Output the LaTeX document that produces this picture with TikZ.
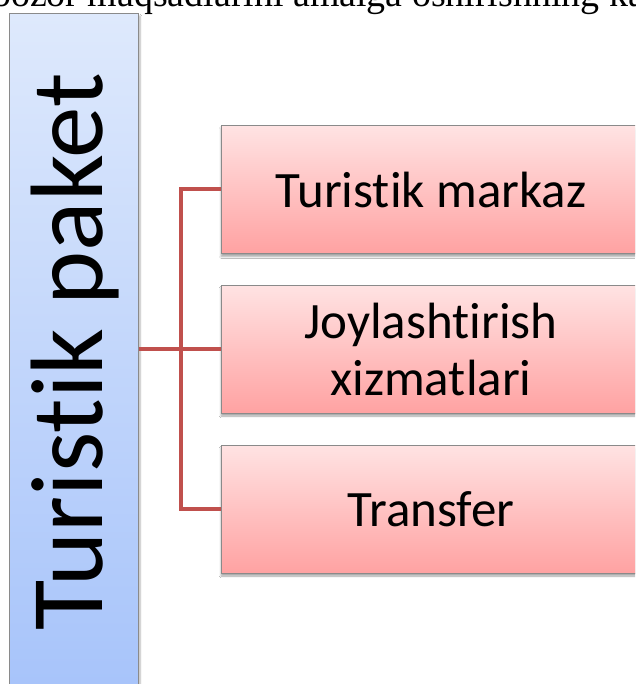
\documentclass[tikz,border=0pt]{standalone}
\usepackage{fontspec}
\setmainfont{Liberation Serif}
\newfontfamily\calib[Ligatures={NoCommon,NoRequired,NoContextual},RawFeature={-liga;-clig;-dlig}]{Carlito}
\newcommand{\tiX}{t\kern0pt i}
\usetikzlibrary{shadows.blur}
\definecolor{pinktop}{HTML}{FFE3E3}
\definecolor{pinkbot}{HTML}{FFA2A2}
\definecolor{bluetop}{HTML}{DEE9FC}
\definecolor{bluebot}{HTML}{A6C3FA}
\definecolor{connred}{HTML}{C0504D}
\definecolor{edgegray}{HTML}{8A8A8A}
\tikzset{
  pinkbox/.style={draw=edgegray, line width=1pt, top color=pinktop, bottom color=pinkbot,
    minimum width=420pt, minimum height=128pt, inner sep=0pt, align=center,
    font=\calib\fontsize{51}{57}\selectfont,
    blur shadow={shadow xshift=0pt, shadow yshift=-3pt, shadow blur steps=6, shadow opacity=35}},
  bluebox/.style={draw=edgegray, line width=1pt, top color=bluetop, bottom color=bluebot,
    minimum width=129pt, minimum height=690pt, inner sep=0pt,
    blur shadow={shadow xshift=2pt, shadow yshift=-2pt, shadow blur steps=6, shadow opacity=30}},
  conn/.style={draw=connred, line width=4pt},
}
\begin{document}
\begin{tikzpicture}[x=1pt,y=-1pt]
\useasboundingbox (0,0) rectangle (635,684);
\clip (0,0) rectangle (635,684);
\fill[white] (0,0) rectangle (635,684);
% heading fragment
\node[anchor=base west, inner sep=0pt, font=\fontsize{37.9}{42}\selectfont] (head) at (-8,7) {bozor maqsadlarini amalga oshirishning ka};
% left box
\node[bluebox] (left) at (73.5,359) {};
\node[rotate=90, anchor=base, inner sep=0pt, font=\calib\fontsize{103}{110}\selectfont] (ltext) at (102,351.5) {Turis\tiX k paket};
% right boxes
\node[pinkbox] (b1) at (431,189.5) {Turis\tiX k markaz};
\node[pinkbox] (b2) at (431,349) {Joylash\tiX r\kern0pt ish\\xizmatlari};
\node[pinkbox] (b3) at (431,509) {Transfer};
% connectors
\coordinate (j) at (181,349);
\draw[conn] (b1.west) -| (j) |- (b3.west);
\draw[conn] (left.east |- b2.west) -- (b2.west);
\end{tikzpicture}
\end{document}
